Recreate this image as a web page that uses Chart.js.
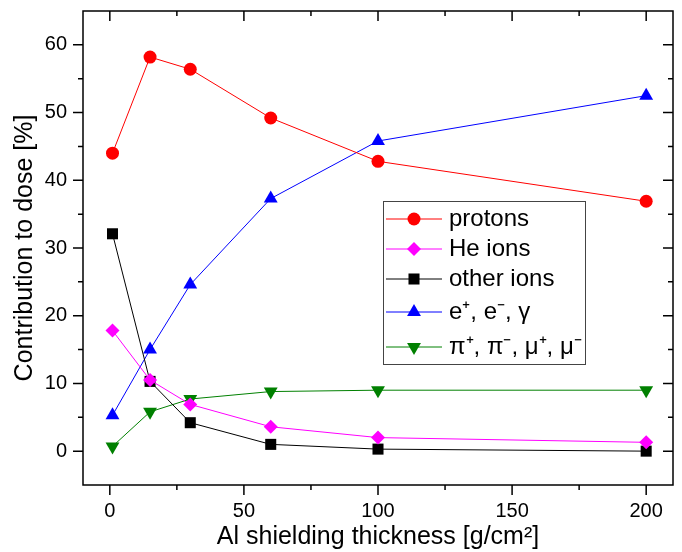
<!DOCTYPE html>
<html>
<head>
<meta charset="utf-8">
<script src="https://cdn.jsdelivr.net/npm/chart.js@4.4.1/dist/chart.umd.min.js"></script>
<style>
  body { margin: 0; background: #fff; }
</style>
</head>
<body>
<canvas id="dose" width="682" height="552"></canvas>
<script>
// Al shielding thickness [g/cm2] and contribution of each particle group to dose [%]
const thickness = [1, 15, 30, 60, 100, 200];
const protons = [44.0, 58.2, 56.4, 49.2, 42.8, 36.9];
const heIons = [17.8, 10.5, 6.9, 3.6, 2.0, 1.3];
const otherIons = [32.1, 10.3, 4.2, 1.0, 0.3, 0.0];
const electronsGamma = [5.3, 15.0, 24.6, 37.3, 45.8, 52.5];
const pionsMuons = [0.7, 5.8, 7.7, 8.8, 9.0, 9.0];

const seriesNames = ["protons", "He ions", "other ions", "e⁺, e⁻, γ", "π⁺, π⁻, μ⁺, μ⁻"];
const xMajorTicks = [0, 50, 100, 150, 200];
const yMajorTicks = [0, 10, 20, 30, 40, 50, 60];

const FONT = '"Liberation Sans", Arial, sans-serif';

function points(values) {
  return thickness.map((t, i) => ({ x: t, y: values[i] }));
}

function series(i, values, color, style, radius, rotation) {
  return {
    label: seriesNames[i],
    data: points(values),
    borderColor: color,
    backgroundColor: color,
    borderWidth: 1,
    pointStyle: style,
    pointRadius: radius,
    pointHoverRadius: radius,
    pointRotation: rotation || 0,
    pointBorderWidth: 0,
    tension: 0
  };
}

// frame on all four sides, outward ticks left/bottom, inward ticks top/right
const frameTicks = {
  id: 'frameTicks',
  afterDraw(chart) {
    const { ctx, chartArea: a, scales } = chart;
    ctx.save();
    ctx.strokeStyle = '#000';
    ctx.lineWidth = 1.5;
    ctx.strokeRect(a.left, a.top, a.right - a.left, a.bottom - a.top);
    ctx.beginPath();
    scales.x.ticks.forEach(t => {
      const px = scales.x.getPixelForValue(t.value);
      const len = xMajorTicks.includes(t.value) ? 10 : 5;
      ctx.moveTo(px, a.bottom); ctx.lineTo(px, a.bottom + len);
      ctx.moveTo(px, a.top); ctx.lineTo(px, a.top + len);
    });
    scales.y.ticks.forEach(t => {
      if (t.value <= scales.y.min || t.value >= scales.y.max) return;
      const py = scales.y.getPixelForValue(t.value);
      const len = yMajorTicks.includes(t.value) ? 10 : 5;
      ctx.moveTo(a.left - len, py); ctx.lineTo(a.left, py);
      ctx.moveTo(a.right - len, py); ctx.lineTo(a.right, py);
    });
    ctx.stroke();
    ctx.restore();
  }
};

// boxed legend sitting inside the plot area
const insideLegend = {
  id: 'insideLegend',
  afterDraw(chart) {
    const { ctx, chartArea: a } = chart;
    const x0 = a.left + 300, y0 = a.top + 190;
    const rows = [18, 48, 78, 111, 146];
    ctx.save();
    ctx.fillStyle = '#fff';
    ctx.fillRect(x0, y0, 202, 163);
    ctx.strokeStyle = '#444';
    ctx.lineWidth = 1;
    ctx.strokeRect(x0 + 0.5, y0 + 0.5, 202, 163);
    chart.data.datasets.forEach((ds, i) => {
      const y = y0 + rows[i];
      ctx.strokeStyle = ds.borderColor;
      ctx.lineWidth = 1;
      ctx.beginPath();
      ctx.moveTo(x0 + 3, y);
      ctx.lineTo(x0 + 59, y);
      ctx.stroke();
      ctx.fillStyle = ds.backgroundColor;
      Chart.helpers.drawPoint(ctx, {
        pointStyle: ds.pointStyle,
        radius: ds.pointRadius,
        rotation: ds.pointRotation,
        borderWidth: 0
      }, x0 + 31, y);
      ctx.fillStyle = '#000';
      ctx.font = '24px ' + FONT;
      ctx.textBaseline = 'middle';
      ctx.textAlign = 'left';
      ctx.fillText(ds.label, x0 + 66, y);
    });
    ctx.restore();
  }
};

new Chart(document.getElementById('dose'), {
  type: 'line',
  data: {
    datasets: [
      series(0, protons, '#ff0000', 'circle', 6.5),
      series(1, heIons, '#ff00ff', 'rectRot', 7),
      series(2, otherIons, '#000000', 'rect', 7.8),
      series(3, electronsGamma, '#0000ff', 'triangle', 8),
      series(4, pionsMuons, '#008000', 'triangle', 8, 180)
    ]
  },
  options: {
    responsive: false,
    animation: false,
    layout: { padding: { left: 0, top: 11, right: 9, bottom: 0 } },
    plugins: {
      legend: { display: false },
      tooltip: { enabled: false }
    },
    scales: {
      x: {
        type: 'linear',
        min: -10,
        max: 210,
        afterFit: s => { s.height = 67; s.paddingLeft = 0; s.paddingRight = 0; },
        grid: { display: false, drawTicks: false },
        border: { display: false },
        ticks: {
          stepSize: 25,
          includeBounds: false,
          maxRotation: 0,
          autoSkip: false,
          padding: 14,
          color: '#000',
          font: { family: FONT, size: 20 },
          callback: v => xMajorTicks.includes(v) ? String(v) : ''
        },
        title: {
          display: true,
          text: 'Al shielding thickness [g/cm²]',
          color: '#000',
          font: { family: FONT, size: 25 },
          padding: { top: 0, bottom: 0 }
        }
      },
      y: {
        min: -5,
        max: 65,
        afterFit: s => { s.width = 83; s.paddingTop = 0; s.paddingBottom = 0; },
        grid: { display: false, drawTicks: false },
        border: { display: false },
        ticks: {
          stepSize: 5,
          autoSkip: false,
          padding: 16,
          color: '#000',
          font: { family: FONT, size: 20 },
          callback: v => yMajorTicks.includes(v) ? String(v) : ''
        },
        title: {
          display: true,
          text: 'Contribution to dose [%]',
          color: '#000',
          font: { family: FONT, size: 25 },
          padding: { top: 10, bottom: 0 }
        }
      }
    }
  },
  plugins: [frameTicks, insideLegend]
});
</script>
</body>
</html>
